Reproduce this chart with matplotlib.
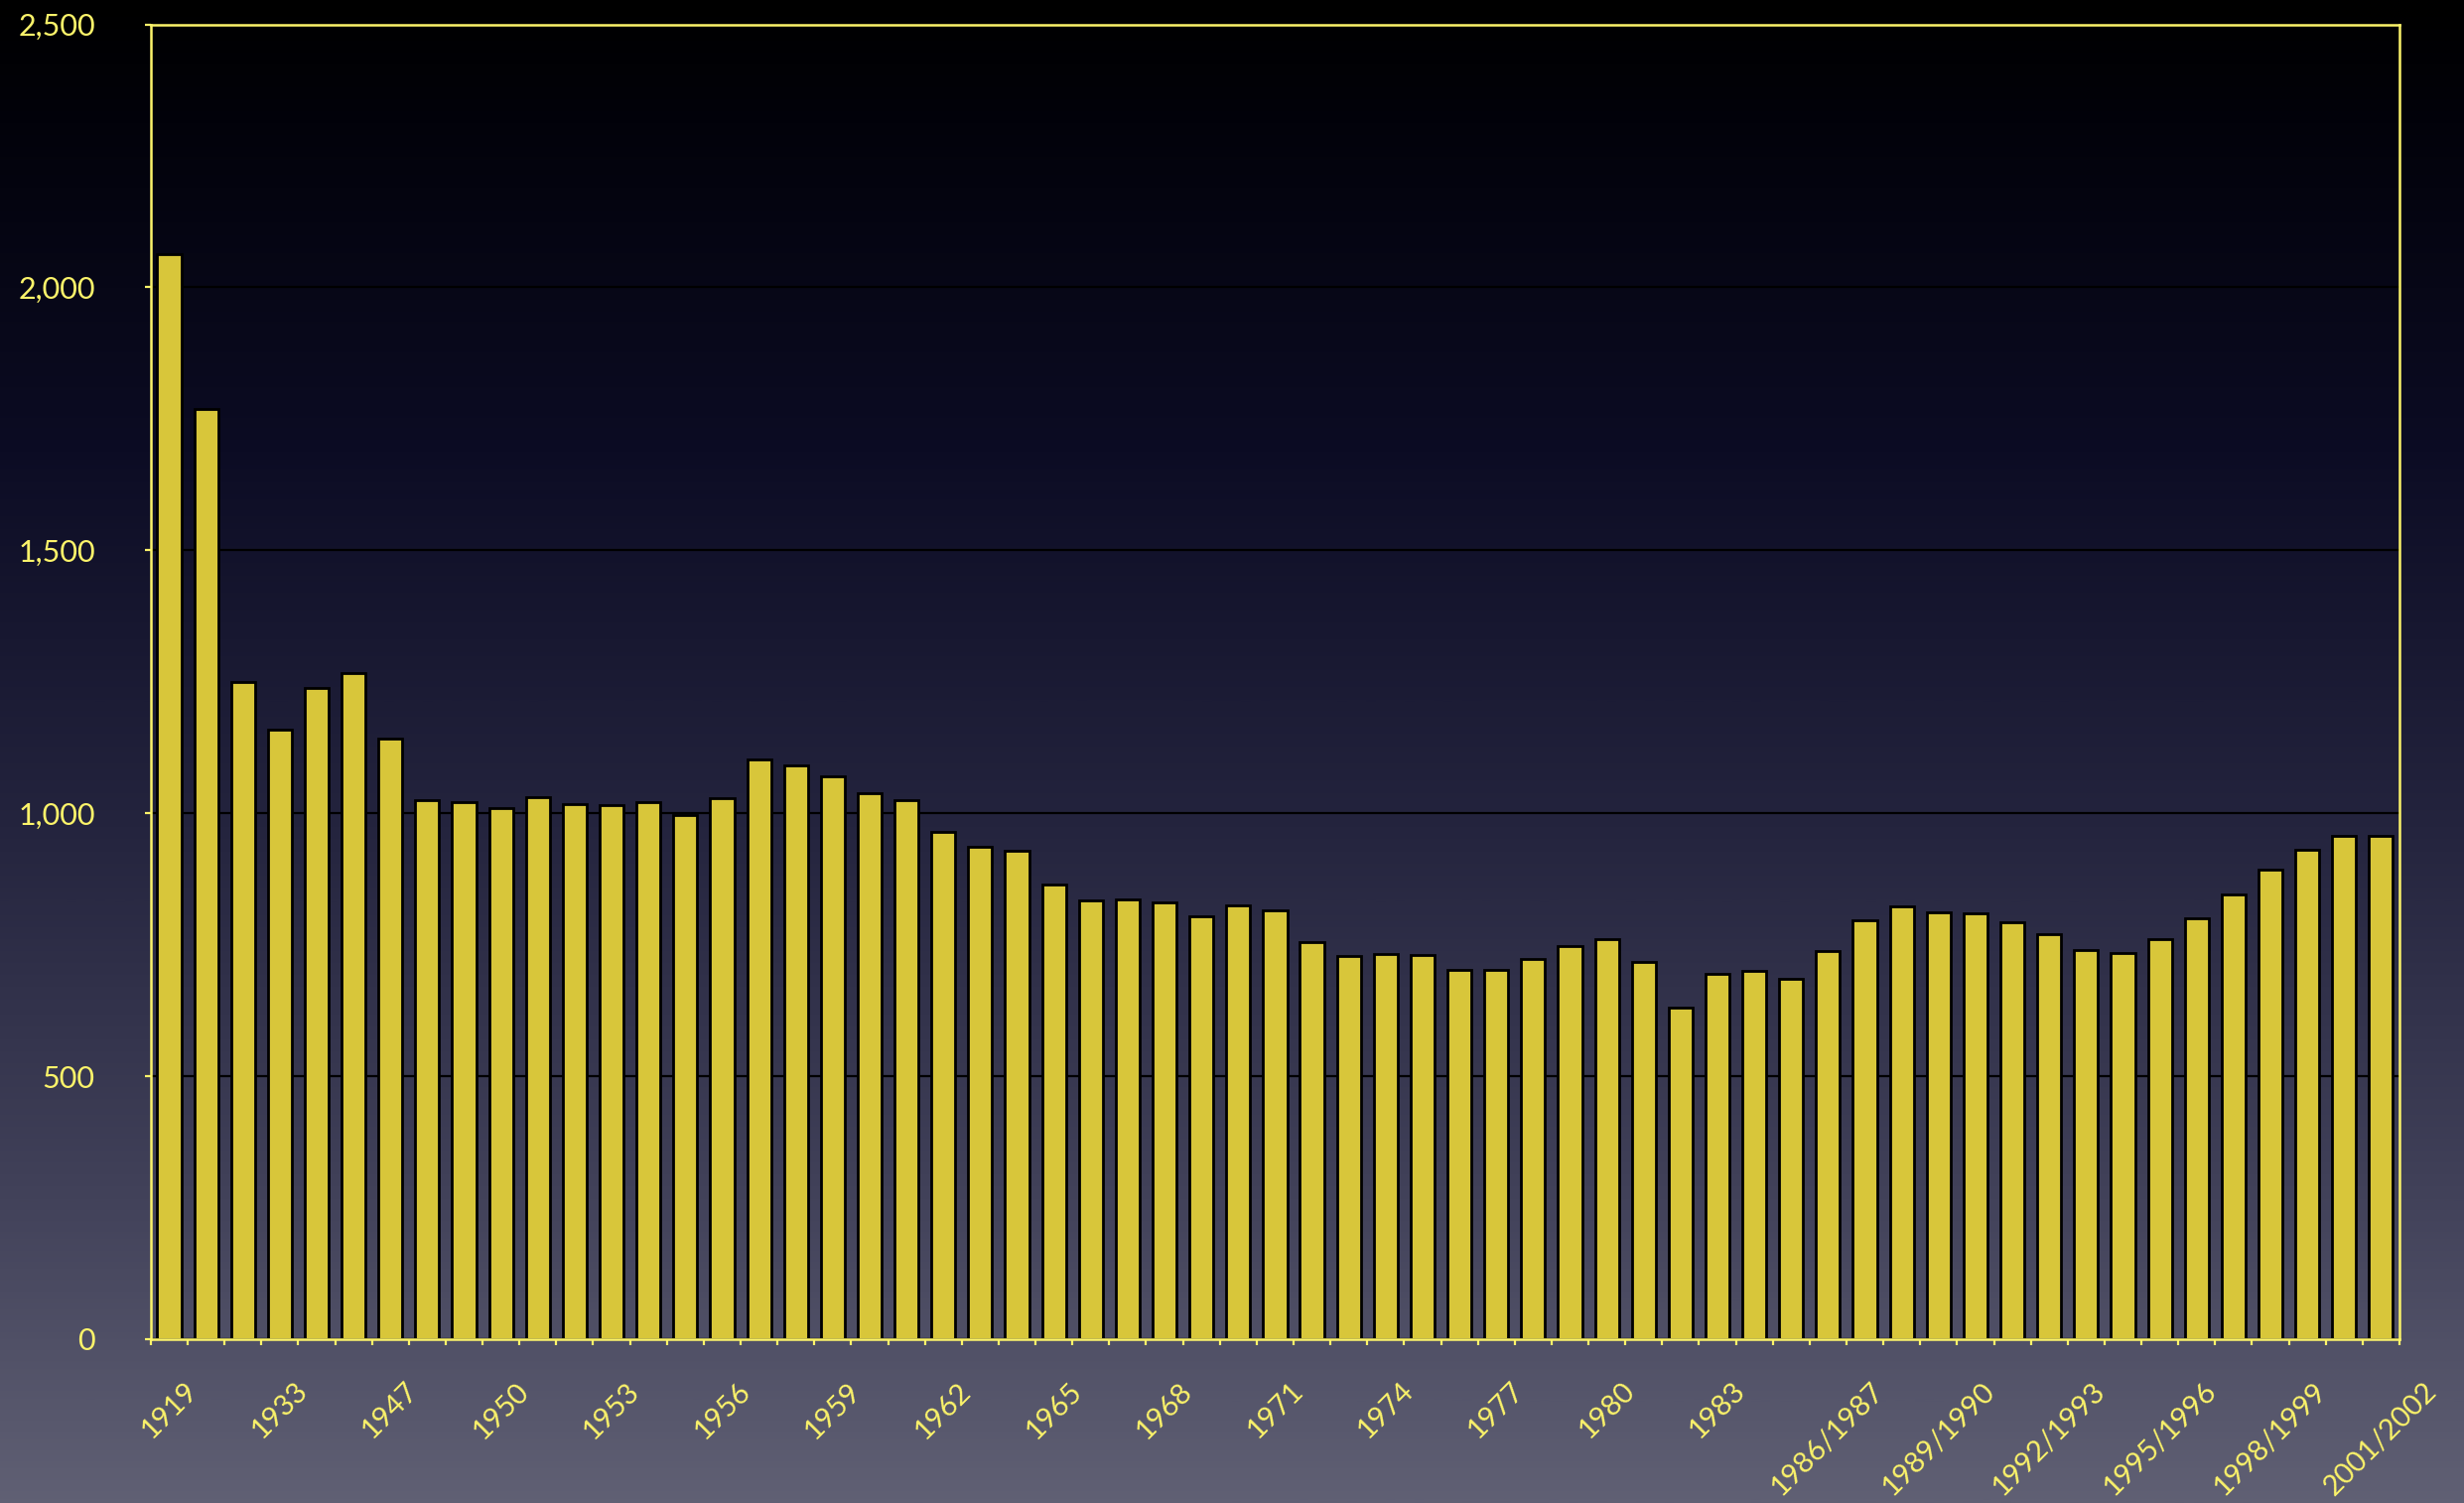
import numpy as np
import matplotlib
matplotlib.use('Agg')
import matplotlib.pyplot as plt
from matplotlib.colors import LinearSegmentedColormap
from matplotlib.ticker import FixedLocator, FuncFormatter

categories = ['1919', '1925', '1929', '1933', '1936', '1939',
              '1947', '1948', '1949', '1950', '1951', '1952', '1953', '1954',
              '1955', '1956', '1957', '1958', '1959', '1960', '1961', '1962',
              '1963', '1964', '1965', '1966', '1967', '1968', '1969', '1970',
              '1971', '1972', '1973', '1974', '1975', '1976', '1977', '1978',
              '1979', '1980', '1981', '1982', '1983', '1984', '1985',
              '1986/1987', '1987/1988', '1988/1989', '1989/1990', '1990/1991',
              '1991/1992', '1992/1993', '1993/1994', '1994/1995', '1995/1996',
              '1996/1997', '1997/1998', '1998/1999', '1999/2000', '2000/2001',
              '2001/2002']
values = [2063, 1769, 1250, 1159, 1239, 1267, 1141, 1025, 1021, 1010, 1031,
          1017, 1016, 1021, 997, 1029, 1102, 1091, 1070, 1038, 1025, 964, 937,
          929, 864, 835, 837, 830, 805, 825, 816, 755, 728, 732, 730, 702, 702,
          723, 748, 761, 718, 630, 694, 700, 685, 738, 797, 822, 812, 809, 792,
          770, 739, 734, 760, 800, 846, 892, 930, 957, 957]
y_ticks = [0, 500, 1000, 1500, 2000, 2500]
label_step = 3

YELLOW = '#fbf36a'
BAR = '#d8c63a'

plt.rcParams['font.family'] = ['Lato', 'DejaVu Sans']

fig = plt.figure(figsize=(12.41, 7.57), dpi=200)

# background gradient
bg = fig.add_axes([0, 0, 1, 1], zorder=-10)
stops = [(0.0, (0, 0, 0)), (0.08, (2, 2, 10)), (0.3, (12, 12, 36)),
         (0.55, (36, 36, 62)), (0.8, (66, 66, 90)), (1.0, (96, 96, 116))]
cmap = LinearSegmentedColormap.from_list(
    'bgg', [(p, tuple(c / 255 for c in col)) for p, col in stops])
grad = np.linspace(0, 1, 512).reshape(-1, 1)
bg.imshow(grad, aspect='auto', cmap=cmap, extent=[0, 1, 0, 1], origin='upper')
bg.set_axis_off()

ax = fig.add_axes([0.0612, 0.109, 0.9126, 0.8748])
ax.set_facecolor('none')

x = np.arange(len(values))
ax.bar(x, values, width=0.65, color=BAR, edgecolor='black', linewidth=1.0, zorder=3)

ax.set_xlim(-0.5, len(values) - 0.5)
ax.set_ylim(0, 2500)

ax.set_yticks(y_ticks)
ax.yaxis.set_major_formatter(FuncFormatter(lambda v, p: f'{int(v):,}'))
ax.yaxis.grid(True, color='black', linewidth=0.8, zorder=1)
ax.set_axisbelow(True)

major = list(range(0, len(values), label_step))
ax.xaxis.set_major_locator(FixedLocator(major))
ax.set_xticklabels([categories[i] for i in major], rotation=45,
                   ha='center', va='top')
ax.xaxis.set_minor_locator(FixedLocator(np.arange(-0.5, len(values), 1.0)))

ax.tick_params(axis='x', which='major', length=0, pad=14, labelsize=10.5,
               labelcolor=YELLOW)
ax.tick_params(axis='x', which='minor', length=2.2, width=0.8, color=YELLOW,
               direction='out')
ax.tick_params(axis='y', which='major', length=2.2, width=0.8, color=YELLOW,
               direction='out', pad=18, labelsize=11, labelcolor=YELLOW)

for s in ax.spines.values():
    s.set_color(YELLOW)
    s.set_linewidth(0.9)
    s.set_zorder(4)

fig.savefig('out.png', dpi=200)
